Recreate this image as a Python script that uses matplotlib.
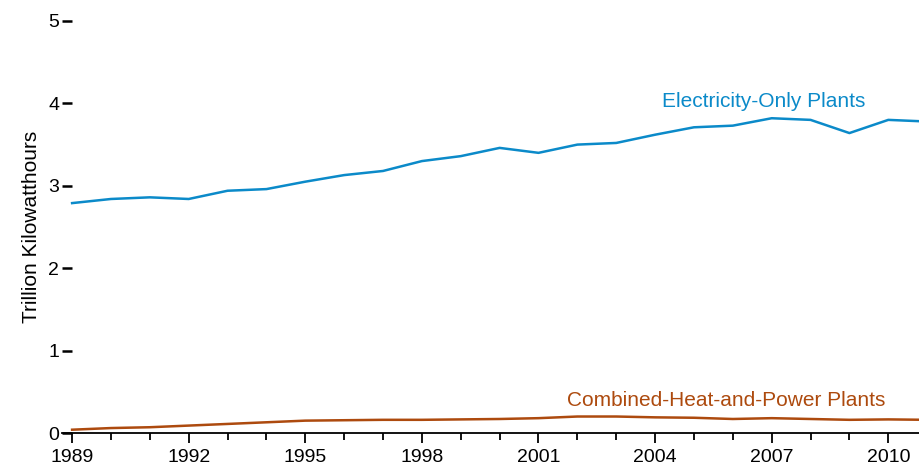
import numpy as np
import matplotlib.pyplot as plt
from matplotlib.ticker import MultipleLocator

plt.rcParams['font.family'] = ['Liberation Sans', 'DejaVu Sans']

years = list(range(1989, 2012))
elec_only = [2.79, 2.84, 2.86, 2.84, 2.94, 2.96, 3.05, 3.13, 3.18, 3.30, 3.36, 3.46,
             3.40, 3.50, 3.52, 3.62, 3.71, 3.73, 3.82, 3.80, 3.64, 3.80, 3.78]
chp = [0.04, 0.06, 0.07, 0.09, 0.11, 0.13, 0.15, 0.155, 0.16, 0.16, 0.165, 0.17,
       0.18, 0.20, 0.20, 0.19, 0.185, 0.17, 0.18, 0.17, 0.16, 0.165, 0.16]

blue = '#0b8ac9'
brown = '#ad4a0e'

fig = plt.figure(figsize=(9.19, 4.69), dpi=100)
ax = fig.add_axes([62 / 919, 1 - 433 / 469, 1 - 62 / 919, (433 - 21) / 469])

ax.plot(years, elec_only, color=blue, lw=1.8)
ax.plot(years, chp, color=brown, lw=1.8)

ax.set_xlim(1988.74, 2010.79)
ax.set_ylim(0, 5)

for s in ['top', 'right', 'left']:
    ax.spines[s].set_visible(False)
ax.spines['bottom'].set_linewidth(1.3)

ax.xaxis.set_minor_locator(MultipleLocator(1))
ax.set_xticks(range(1989, 2011, 3))
ax.tick_params(axis='x', which='major', direction='out', length=7.5, width=1.3,
               labelsize=14, pad=4)
ax.tick_params(axis='x', which='minor', direction='out', length=5, width=1.3)
ax.set_yticks([0, 1, 2, 3, 4, 5])
ax.tick_params(axis='y', direction='in', length=7.5, width=1.8, labelsize=14, pad=2)

ax.set_ylabel('Trillion Kilowatthours', fontsize=15, labelpad=5)

ax.text(2006.8, 4.02, 'Electricity-Only Plants', color=blue, fontsize=15,
        ha='center', va='center')
ax.text(2005.83, 0.39, 'Combined-Heat-and-Power Plants', color=brown, fontsize=15,
        ha='center', va='center')

fig.savefig('out.png', dpi=100)
